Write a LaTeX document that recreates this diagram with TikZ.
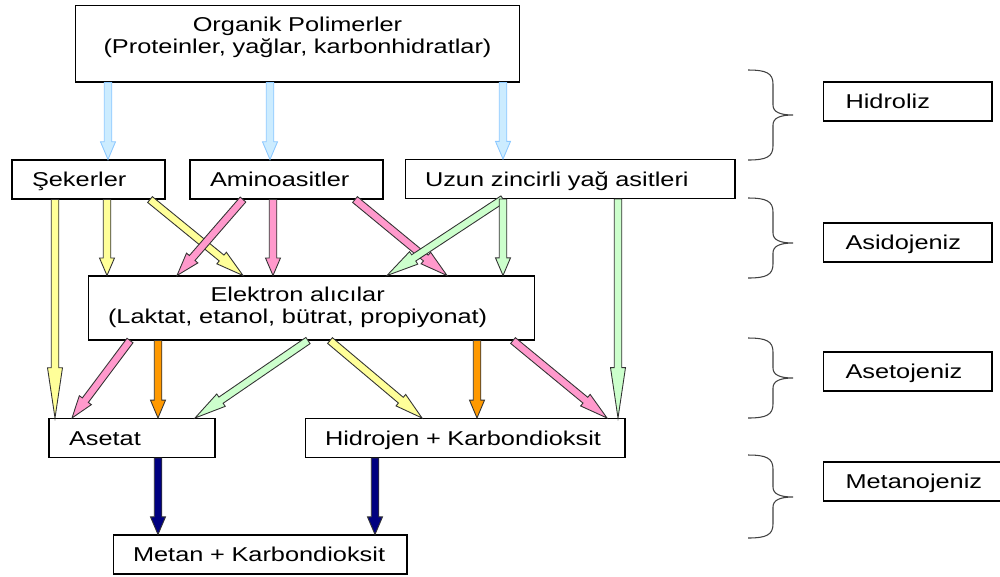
\documentclass[tikz,border=0pt]{standalone}
\usepackage{fontspec}
\setmainfont[FakeStretch=1.265]{Liberation Sans}
\usetikzlibrary{calc}

\definecolor{hidblue}{RGB}{204,236,255}
\definecolor{hidblueline}{RGB}{140,200,255}
\definecolor{sekyellow}{RGB}{255,255,153}
\definecolor{aminopink}{RGB}{255,153,204}
\definecolor{yaggreen}{RGB}{204,255,204}
\definecolor{elekorange}{RGB}{255,153,0}
\definecolor{metannavy}{RGB}{0,0,128}

\tikzset{
  box/.style={draw, line width=0.6pt, inner xsep=0.4cm, inner ysep=0pt,
    font=\fontsize{11.4}{12.4}\selectfont},
  onebox/.style={box, align=left, text width=#1, text height=0.29cm,
    text depth=0cm, minimum height=0.78cm},
  phasebox/.style={onebox=#1, inner xsep=0.45cm},
  % fat arrow with outline, head is a fixed part of its length
  blockarrow/.style 2 args={fill=#1, draw=#2, line width=0.5pt,
    to path={
      let \p1=($(\tikztotarget)!0.23!(\tikztostart)$) in
      ($(\tikztostart)!0.075cm!90:(\tikztotarget)$) --
      ($(\p1)!0.075cm!90:(\tikztotarget)$) --
      ($(\p1)!0.15cm!90:(\tikztotarget)$) --
      (\tikztotarget) --
      ($(\p1)!0.15cm!-90:(\tikztotarget)$) --
      ($(\p1)!0.075cm!-90:(\tikztotarget)$) --
      ($(\tikztostart)!0.075cm!-90:(\tikztotarget)$) -- cycle}},
  phasebrace/.style={draw=black!75, line width=0.6pt}
}

\begin{document}
\begin{tikzpicture}[x=0.02cm, y=-0.02cm]
\useasboundingbox (0,0) rectangle (1000,576);
\clip (0,0) rectangle (1000,576);

% boxes
\node[box, text width=8.1cm, align=center, anchor=base, text height=0.53cm,
  text depth=1.006cm] (poly) at (297.5,31.7)
  {Organik Polimerler\\(Proteinler, yağlar, karbonhidratlar)};
\node[onebox=2.26cm] (sek) at (88.5,179.5) {Şekerler};
\node[onebox=3.06cm] (amino) at (286.5,179.5) {Aminoasitler};
\node[onebox=5.8cm] (uzun) at (570,179) {Uzun zincirli yağ asitleri};
\node[box, text width=8.14cm, align=left, minimum height=1.28cm] (elek) at (311.5,308)
  {\begin{tabular}{@{}c@{}}Elektron alıcılar\\(Laktat, etanol, bütrat, propiyonat)\end{tabular}};
\node[onebox=2.52cm] (asetat) at (132,438) {Asetat};
\node[onebox=5.6cm] (hidro) at (465,438) {Hidrojen + Karbondioksit};
\node[onebox=5.08cm] (metan) at (260,554.5) {Metan + Karbondioksit};

% phases
\node[phasebox=2.48cm] (hidroliz) at (907.5,101.5) {Hidroliz};
\node[phasebox=2.48cm] (asidojeniz) at (907.5,242.5) {Asidojeniz};
\node[phasebox=2.48cm] (asetojeniz) at (907.5,371.5) {Asetojeniz};
\node[phasebox=3.24cm] (metanojeniz) at (926.5,481.5) {Metanojeniz};

\foreach \ya/\ym/\yb in {70/115/160, 198/243/278, 338/378/418, 455/497/538}
  \draw[phasebrace] (748,\ya) .. controls (766,\ya) and (773,\ya+3) .. (773,\ya+14)
    -- (773,\ym-10) .. controls (773,\ym-3) and (780,\ym) .. (793,\ym)
    .. controls (780,\ym) and (773,\ym+3) .. (773,\ym+10)
    -- (773,\yb-14) .. controls (773,\yb-3) and (766,\yb) .. (748,\yb);

% hidroliz
\draw[blockarrow={hidblue}{hidblueline}] (108,0 |- poly.south) to (108,0 |- sek.north);
\draw[blockarrow={hidblue}{hidblueline}] (270,0 |- poly.south) to (270,0 |- amino.north);
\draw[blockarrow={hidblue}{hidblueline}] (503,0 |- poly.south) to (503,0 |- uzun.north);

% asidojeniz
\draw[blockarrow={sekyellow}{black!80}] (55,0 |- sek.south) to (55,0 |- asetat.north);
\draw[blockarrow={sekyellow}{black!80}] (107,0 |- sek.south) to (107,0 |- elek.north);
\draw[blockarrow={sekyellow}{black!80}] (150,0 |- sek.south) to (243,0 |- elek.north);
\draw[blockarrow={aminopink}{black!80}] (243,0 |- amino.south) to (177,0 |- elek.north);
\draw[blockarrow={aminopink}{black!80}] (273,0 |- amino.south) to (273,0 |- elek.north);
\draw[blockarrow={aminopink}{black!80}] (355,0 |- amino.south) to (447,0 |- elek.north);
\draw[blockarrow={yaggreen}{black!80}] (503,0 |- uzun.south) to (387,0 |- elek.north);
\draw[blockarrow={yaggreen}{black!80}] (503,0 |- uzun.south) to (503,0 |- elek.north);
\draw[blockarrow={yaggreen}{black!80}] (618,0 |- uzun.south) to (618,0 |- hidro.north);

% asetojeniz
\draw[blockarrow={aminopink}{black!80}] (130,0 |- elek.south) to (72,0 |- asetat.north);
\draw[blockarrow={elekorange}{black!80}] (158,0 |- elek.south) to (158,0 |- asetat.north);
\draw[blockarrow={yaggreen}{black!80}] (308,0 |- elek.south) to (195,0 |- asetat.north);
\draw[blockarrow={sekyellow}{black!80}] (330,0 |- elek.south) to (422,0 |- hidro.north);
\draw[blockarrow={elekorange}{black!80}] (477,0 |- elek.south) to (477,0 |- hidro.north);
\draw[blockarrow={aminopink}{black!80}] (513,0 |- elek.south) to (607,0 |- hidro.north);

% metanojeniz
\draw[blockarrow={metannavy}{black!80}] (158,0 |- asetat.south) to (158,0 |- metan.north);
\draw[blockarrow={metannavy}{black!80}] (375,0 |- hidro.south) to (375,0 |- metan.north);
\end{tikzpicture}
\end{document}
